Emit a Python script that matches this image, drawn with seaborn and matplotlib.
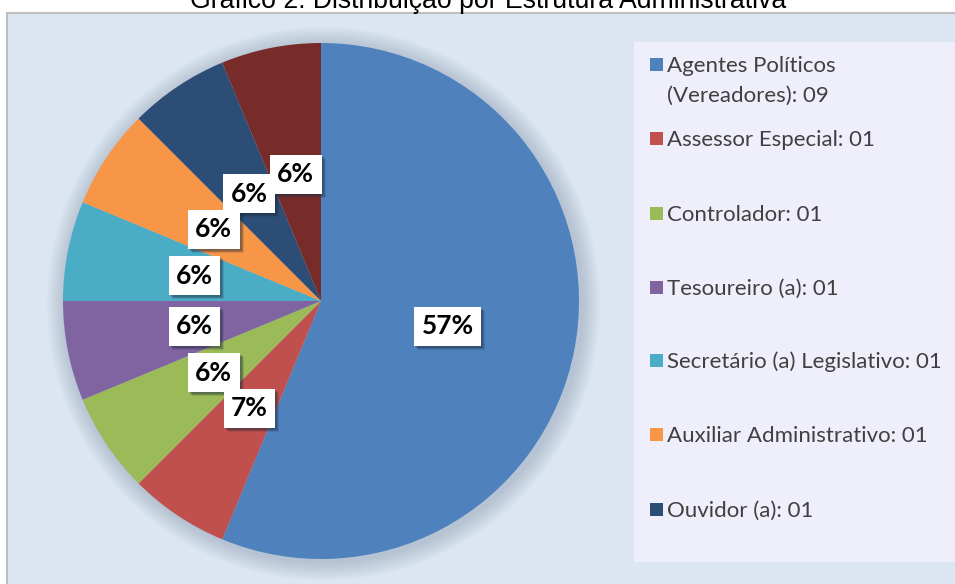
import numpy as np
import matplotlib
matplotlib.use("Agg")
import matplotlib.pyplot as plt
from matplotlib.patches import Rectangle, Circle
import seaborn as sns

sns.set_theme(style="white")
plt.rcParams['font.family'] = ['Lato', 'DejaVu Sans']

# Data
categories = [
    "Agentes Políticos\n(Vereadores): 09",
    "Assessor Especial: 01",
    "Controlador: 01",
    "Tesoureiro (a): 01",
    "Secretário (a) Legislativo: 01",
    "Auxiliar Administrativo: 01",
    "Ouvidor (a): 01",
    "",
]
counts = [9, 1, 1, 1, 1, 1, 1, 1]
pct_labels = ["57%", "7%", "6%", "6%", "6%", "6%", "6%", "6%"]
colors = ["#4F81BD", "#C0504D", "#9BBB59", "#8064A2",
          "#4BACC6", "#F79646", "#2C4D75", "#772C2A"]
title = "Gráfico 2: Distribuição por Estrutura Administrativa"

W, H = 955, 584
fig = plt.figure(figsize=(W / 100, H / 100), dpi=100)
fig.patch.set_facecolor("white")

def fx(px):
    return px / W

def fy(py):
    return 1 - py / H

# chart area background
fig.patches.append(Rectangle((fx(7), fy(600)), fx(960) - fx(7), fy(13) - fy(600),
                             transform=fig.transFigure, facecolor="#DCE6F2",
                             edgecolor="#BFBFBF", linewidth=1.5, zorder=0))

# legend box
fig.patches.append(Rectangle((fx(634), fy(562)), fx(955) - fx(634), fy(42) - fy(562),
                             transform=fig.transFigure, facecolor="#EFEEFB",
                             edgecolor="none", zorder=1))

# pie axes: center (321, 301), radius 258 px
cx, cy, r = 321, 301, 258
ax = fig.add_axes([fx(cx - r), fy(cy + r), 2 * r / W, 2 * r / H])
ax.set_zorder(2)
ax.patch.set_visible(False)

# soft glow behind pie
for k in range(12):
    ax.add_patch(Circle((0.01, -0.01), 1.0 + 0.006 * (12 - k), color="#7F8FA6",
                        alpha=0.035, linewidth=0, clip_on=False, zorder=0))

it = iter(pct_labels)
wedges, texts, autotexts = ax.pie(
    counts, colors=colors, startangle=90, counterclock=False,
    autopct=lambda p: next(it), pctdistance=0.5, radius=1.0,
    wedgeprops=dict(linewidth=0), frame=False,
)
ax.set_xlim(-1, 1)
ax.set_ylim(-1, 1)
ax.set_aspect("auto")
ax.axis("off")

for t in autotexts:
    t.set_fontsize(19)
    t.set_fontweight("bold")
    t.set_color("black")
    t.set_zorder(5)
    t.set_bbox(dict(boxstyle="square,pad=0.28", facecolor="white", edgecolor="none"))

# drop shadows behind the label boxes (measured after a first draw)
fig.canvas.draw()
for t in autotexts:
    bb = t.get_bbox_patch().get_window_extent()
    for d, a in [(4, 0.15), (3, 0.22), (2, 0.28)]:
        ax.add_patch(Rectangle((bb.x0 + d, bb.y0 - d), bb.width, bb.height,
                               transform=None, facecolor="#1F2A3A", alpha=a,
                               edgecolor="none", zorder=4, clip_on=False))

# legend entries (only the first 7 categories are shown)
entry_y = [64, 138, 213, 287, 360, 434, 509]
for lab, col, yy in zip(categories[:7], colors[:7], entry_y):
    fig.patches.append(Rectangle((fx(650), fy(yy + 7)), fx(13), 13 / H,
                                 transform=fig.transFigure, facecolor=col,
                                 edgecolor="none", zorder=2))
    for i, line in enumerate(lab.split("\n")):
        fig.text(fx(667), fy(yy + 8 + 30 * i), line, fontsize=16, color="#404040",
                 va="baseline", ha="left", zorder=3)

# title (partly cut at top as in the reference)
fig.text(fx(488), fy(8), title, ha="center", va="baseline", fontsize=19.2,
         family=["Liberation Sans", "DejaVu Sans"], color="black")

fig.savefig("out.png", dpi=100)
